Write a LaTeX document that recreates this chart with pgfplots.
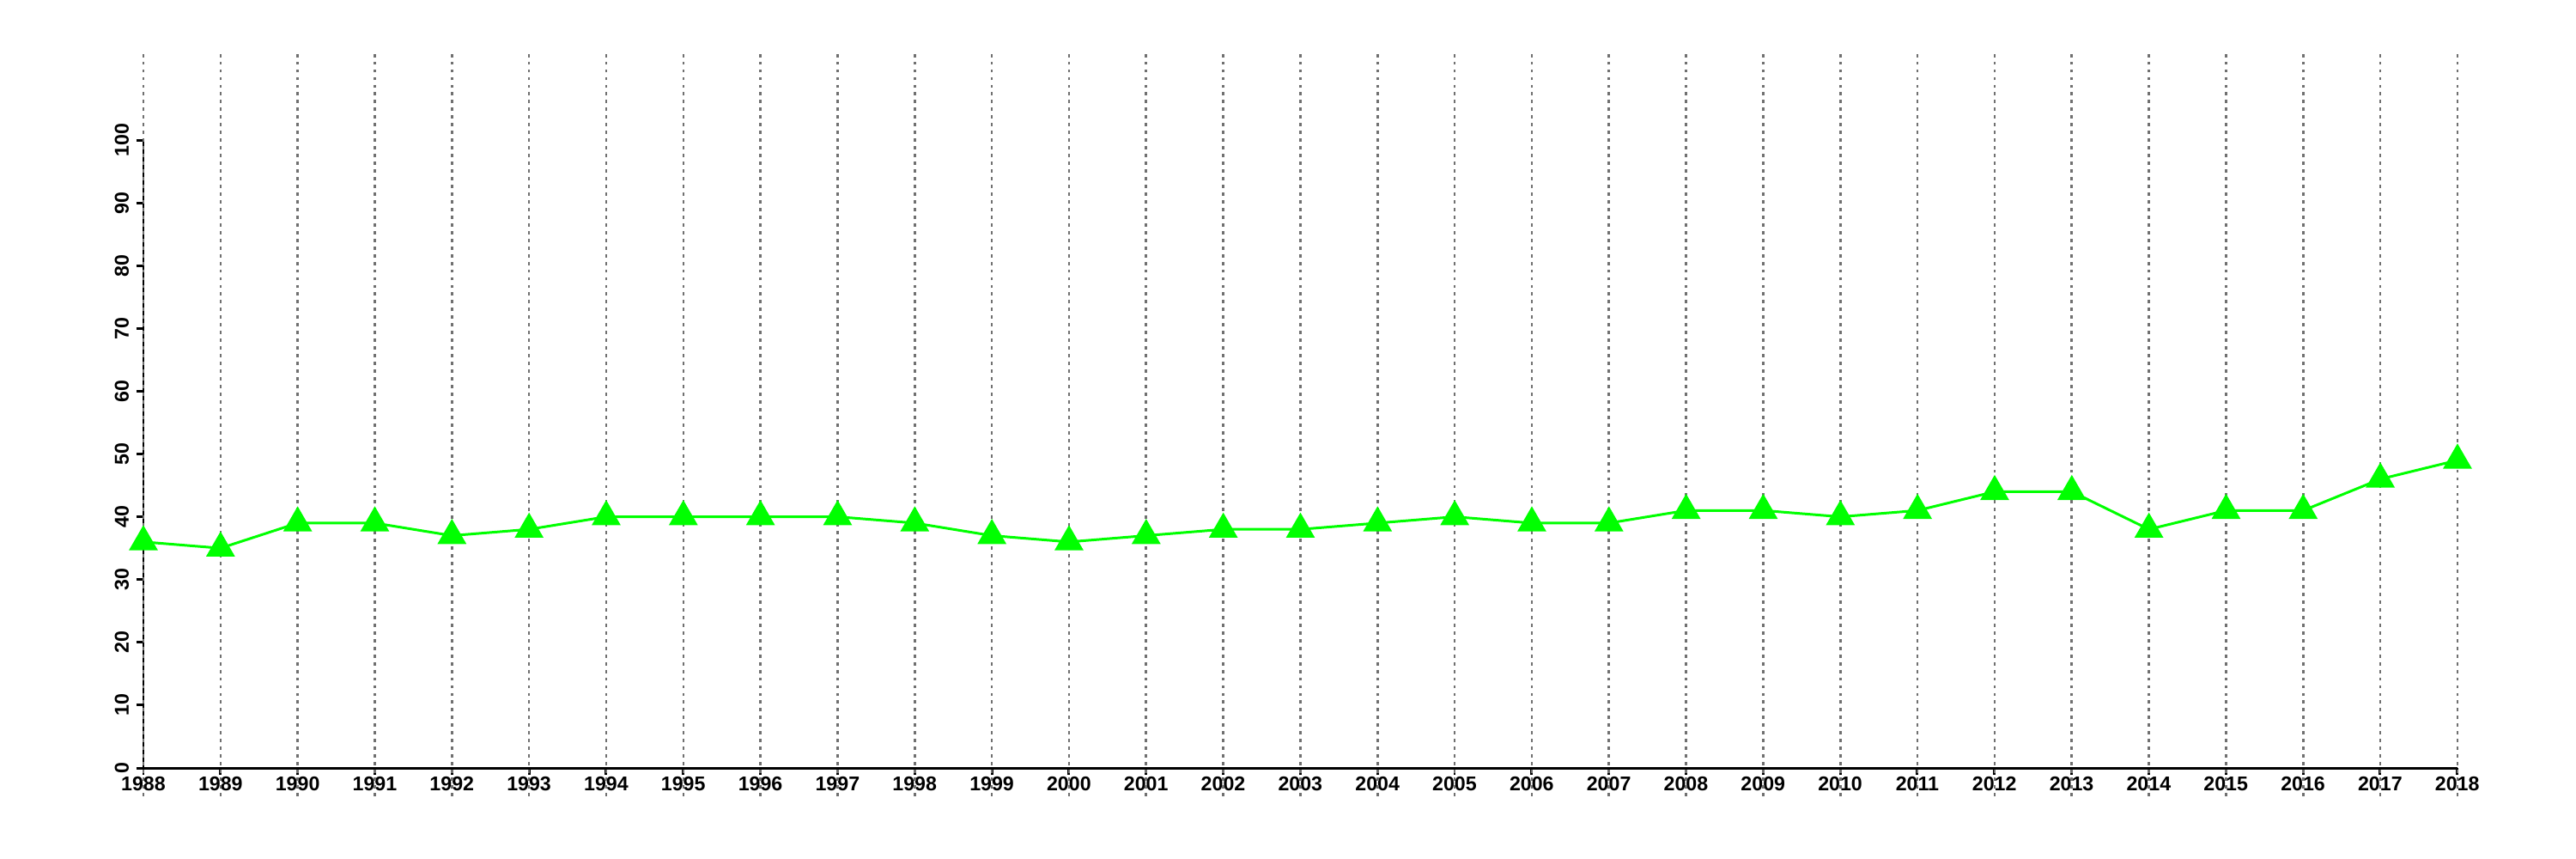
\documentclass[border=0pt]{standalone}
\usepackage{pgfplots}
\pgfplotsset{compat=1.18}
\usepackage{fontspec}
\setmainfont{Liberation Sans}
\begin{document}
\begin{tikzpicture}
\begin{axis}[
  scale only axis,
  width=26.95cm, height=7.31cm,
  xmin=1988, xmax=2018, ymin=0, ymax=100,
  axis x line*=bottom, axis y line*=left,
  axis line style={line width=0.85pt, black},
  xtick={1988,1989,...,2018},
  ytick={0,10,...,100},
  tick align=outside,
  major tick length=0.08cm,
  tick style={line width=0.85pt, black},
  clip=false,
  /pgf/number format/assume math mode=true,
  /pgf/number format/1000 sep={},
  tick label style={font=\fontsize{6.6}{7}\selectfont\bfseries},
  x tick label style={inner sep=0.5pt, anchor=north},
  y tick label style={rotate=90, anchor=south, inner sep=2.3pt},
]
\addplot[color={rgb,255:red,0;green,255;blue,0}, line width=0.85pt,
  mark=triangle*, mark size=4.7pt, mark options={fill={rgb,255:red,0;green,255;blue,0}, draw=none}]
coordinates {
(1988,36) (1989,35) (1990,39) (1991,39) (1992,37) (1993,38) (1994,40) (1995,40)
(1996,40) (1997,40) (1998,39) (1999,37) (2000,36) (2001,37) (2002,38) (2003,38)
(2004,39) (2005,40) (2006,39) (2007,39) (2008,41) (2009,41) (2010,40) (2011,41)
(2012,44) (2013,44) (2014,38) (2015,41) (2016,41) (2017,46) (2018,49)
};
\pgfplotsinvokeforeach{1988,1989,...,2018}{
  \draw[color={rgb,255:red,112;green,112;blue,112}, line width=0.75pt, dash pattern=on 1.1pt off 1.45pt]
    (axis cs:#1,-4.5) -- (axis cs:#1,114.1);
}
\coordinate (bl) at (axis cs:1986.141,-14.5);
\coordinate (tr) at (axis cs:2019.537,122.3);
\end{axis}
\pgfresetboundingbox
\path (bl) rectangle (tr);
\end{tikzpicture}
\end{document}
